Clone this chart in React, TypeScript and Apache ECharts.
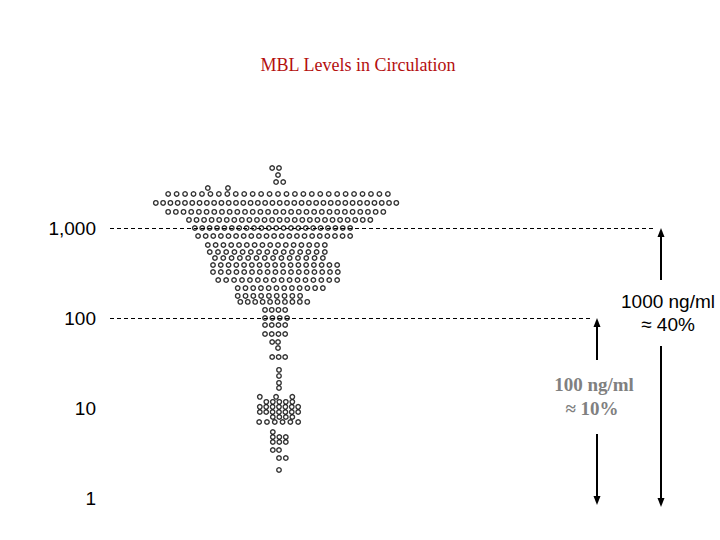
import React, { useEffect, useRef } from "react";
import * as echarts from "echarts";

// MBL level (ng/ml) of each horizontal band of the swarm
const rowLevels = [4640, 3880, 3240, 2780, 2390, 1900, 1510, 1230, 1000, 815, 647, 541, 464, 388, 324, 264, 215, 176, 151, 123, 100, 83.6, 66.4, 54.1, 46.4, 36.9, 26.5, 22.7, 19.0, 16.7, 13.3, 11.7, 10.3, 9.03, 7.94, 6.99, 5.41, 4.76, 4.19, 3.41, 2.78, 2.05];
// number of individuals in each band
const rowCounts = [2, 1, 2, 2, 27, 34, 29, 25, 22, 21, 16, 15, 14, 17, 17, 16, 12, 9, 10, 4, 4, 4, 4, 2, 1, 3, 1, 1, 1, 1, 3, 5, 7, 7, 4, 6, 1, 3, 3, 2, 2, 1];
// swarm spread of each band (jitter units, 0 = centre)
const rowFrom = [-0.9, 0, -0.3, -10.8, -16.9, -18.8, -16.9, -13.7, -12.8, -12.3, -10.8, -10.5, -9.7, -10, -10, -9.2, -6.2, -6.2, -5.8, -2, -2, -2, -2, -0.9, 0, -0.9, 0.15, 0.15, 0.15, 0.15, -2.8, -1.8, -2.8, -2.8, -0.8, -2.9, -0.8, -0.8, -0.8, -0.8, 0.15, 0.15];
const rowTo = [0.15, 0, 0.8, -7.7, 16.9, 18.2, 16.2, 14.2, 11.1, 11.1, 7.2, 7.2, 6.9, 9.1, 9.2, 9.1, 6.9, 3.4, 4.5, 1.1, 1.4, 1.1, 1.1, 0, 0, 1.1, 0.15, 0.15, 0.15, 0.15, 2.2, 2.2, 3.1, 3.1, 2.2, 3.1, -0.8, 1.2, 1.2, 0.15, 1.2, 0.15];

const thresholds = [1000, 100];
const thresholdEnds = [58, 48.3];
const tickLabels: Record<string, string> = { "1": "1", "10": "10", "100": "100", "1000": "1,000" };

const X_MIN = -25.85;
const X_MAX = 68;

export default function App() {
  const ref = useRef<HTMLDivElement>(null);
  useEffect(() => {
    if (!ref.current) return;
    const chart = echarts.init(ref.current, null, { renderer: "svg" });
    const points: number[][] = [];
    rowLevels.forEach((lv, r) => {
      const n = rowCounts[r];
      for (let i = 0; i < n; i++) {
        const x = n === 1 ? rowFrom[r] : rowFrom[r] + ((rowTo[r] - rowFrom[r]) * i) / (n - 1);
        points.push([x, lv]);
      }
    });
    const arial = "'Liberation Sans', Arial, sans-serif";
    const times = "'Liberation Serif', 'Times New Roman', serif";
    chart.setOption({
      animation: false,
      backgroundColor: "#ffffff",
      title: {
        text: "MBL Levels in Circulation",
        left: 353,
        top: 51,
        textAlign: "center",
        textStyle: { fontFamily: times, fontSize: 18, fontWeight: "normal", color: "#b40f0f" },
      },
      grid: { left: 110, right: 0, top: 138, bottom: 42 },
      xAxis: { type: "value", min: X_MIN, max: X_MAX, show: false },
      yAxis: {
        type: "log",
        logBase: 10,
        min: 1,
        max: 10000,
        axisLine: { show: false },
        axisTick: { show: false },
        splitLine: { show: false },
        axisLabel: {
          margin: 14,
          fontFamily: arial,
          fontSize: 19,
          color: "#000",
          showMaxLabel: false,
          formatter: (v: number) => tickLabels[String(Math.round(v))] ?? "",
        },
      },
      series: [
        {
          type: "scatter",
          data: points,
          symbol: "circle",
          symbolSize: 4.5,
          itemStyle: { color: "#ffffff", borderColor: "#000000", borderWidth: 1.4 },
          silent: true,
          markLine: {
            silent: true,
            symbol: ["none", "none"],
            label: { show: false },
            lineStyle: { color: "#000", type: [4, 3], width: 1 },
            data: thresholds.map((t, i) => [{ coord: [X_MIN, t] }, { coord: [thresholdEnds[i], t] }]),
          },
        },
      ],
    });

    const p1000 = chart.convertToPixel({ gridIndex: 0 }, [0, 1000]) as number[];
    const p100 = chart.convertToPixel({ gridIndex: 0 }, [0, 100]) as number[];
    const bottom = 507;
    const arrow = (x: number, y1: number, y2: number, color: string) => [
      { type: "line", shape: { x1: x, y1: y1 + 6, x2: x, y2: y2 - 6 }, style: { stroke: color, lineWidth: 2 } },
    ];
    const head = (x: number, y: number, up: boolean, color: string) => ({
      type: "polygon",
      shape: { points: up ? [[x, y], [x - 3.5, y + 9], [x + 3.5, y + 9]] : [[x, y], [x - 3.5, y - 9], [x + 3.5, y - 9]] },
      style: { fill: color },
    });
    const xr = 661;
    const xl = 597;
    chart.setOption({
      graphic: [
        ...arrow(xr, p1000[1], 286, "#000"),
        ...arrow(xr, 340, bottom, "#000"),
        head(xr, p1000[1], true, "#000"),
        head(xr, bottom, false, "#000"),
        {
          type: "text",
          x: 668,
          y: 301,
          style: { text: "1000 ng/ml", font: `19px ${arial}`, fill: "#000", align: "center", verticalAlign: "middle" },
        },
        {
          type: "text",
          x: 668,
          y: 324,
          style: { text: "\u2248 40%", font: `19px ${arial}`, fill: "#000", align: "center", verticalAlign: "middle" },
        },
        ...arrow(xl, p100[1], 366, "#000"),
        ...arrow(xl, 428, bottom - 2, "#000"),
        head(xl, p100[1], true, "#000"),
        head(xl, bottom - 2, false, "#000"),
        {
          type: "text",
          x: 594,
          y: 384,
          style: { text: "100 ng/ml", font: `bold 19px ${times}`, fill: "#808080", align: "center", verticalAlign: "middle" },
        },
        {
          type: "text",
          x: 592,
          y: 408,
          style: { text: "\u2248 10%", font: `bold 19px ${times}`, fill: "#808080", align: "center", verticalAlign: "middle" },
        },
      ],
    });
    return () => chart.dispose();
  }, []);
  return <div ref={ref} style={{ width: 720, height: 540, position: "fixed", left: 0, top: 0 }} />;
}
